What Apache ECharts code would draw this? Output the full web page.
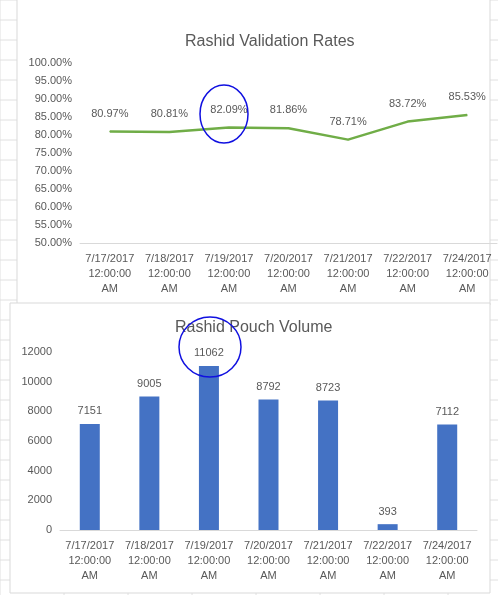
<!DOCTYPE html>
<html><head><meta charset="utf-8">
<script src="https://cdn.jsdelivr.net/npm/echarts@6/dist/echarts.min.js"></script>
<style>html,body{margin:0;padding:0;background:#fff}#c{width:498px;height:595px}</style>
</head><body><div id="c"></div>
<script>
const categories = ["7/17/2017\n12:00:00\nAM","7/18/2017\n12:00:00\nAM","7/19/2017\n12:00:00\nAM","7/20/2017\n12:00:00\nAM","7/21/2017\n12:00:00\nAM","7/22/2017\n12:00:00\nAM","7/24/2017\n12:00:00\nAM"];
const validationRates = [80.97, 80.81, 82.09, 81.86, 78.71, 83.72, 85.53];
const pouchVolume = [7151, 9005, 11062, 8792, 8723, 393, 7112];
const font = "Liberation Sans";
const txt = {color:"#595959", fontFamily:font, fontSize:11};
const chart = echarts.init(document.getElementById('c'));
const grid = [];
for (let x=0;x<498;x+=64) grid.push({type:'line',shape:{x1:x,y1:0,x2:x,y2:595},style:{stroke:'#e0e0e0'},z:-10});
for (let y=0;y<595;y+=20) grid.push({type:'line',shape:{x1:0,y1:y,x2:498,y2:y},style:{stroke:'#e0e0e0'},z:-10});
chart.setOption({
  animation:false,
  textStyle:{fontFamily:font},
  title:[
    {text:"Rashid Validation Rates",top:29,left:180,textStyle:{fontFamily:font,fontWeight:'normal',fontSize:16,color:'#595959'}},
    {text:"Rashid Pouch Volume",top:315,left:170,textStyle:{fontFamily:font,fontWeight:'normal',fontSize:16,color:'#595959'}}
  ],
  graphic:[
    ...grid,
    {type:'rect',shape:{x:17,y:-1,width:473,height:306},style:{fill:'#fff',stroke:'#d9d9d9'},z:-5},
    {type:'rect',shape:{x:10,y:303,width:480,height:290},style:{fill:'#fff',stroke:'#d9d9d9'},z:-4},
    {type:'ellipse',shape:{cx:224,cy:114,rx:24,ry:29},style:{fill:'none',stroke:'#1010e0',lineWidth:1.5},z:50},
    {type:'ellipse',shape:{cx:210,cy:347,rx:31,ry:30},style:{fill:'none',stroke:'#1010e0',lineWidth:1.5},z:50}
  ],
  grid:[
    {left:80,right:1,top:63,height:180},
    {left:60,right:21,top:352,bottom:65}
  ],
  xAxis:[
    {type:'category',gridIndex:0,data:categories,axisTick:{show:false},axisLine:{lineStyle:{color:'#d9d9d9'}},axisLabel:{...txt,lineHeight:15,margin:8,interval:0}},
    {type:'category',gridIndex:1,data:categories,axisTick:{show:false},axisLine:{lineStyle:{color:'#d9d9d9'}},axisLabel:{...txt,lineHeight:15,margin:8,interval:0}}
  ],
  yAxis:[
    {type:'value',gridIndex:0,min:50,max:100,interval:5,splitLine:{show:false},axisLine:{show:false},axisTick:{show:false},axisLabel:{...txt,formatter:v=>v.toFixed(2)+'%'}},
    {type:'value',gridIndex:1,min:0,max:12000,interval:2000,splitLine:{show:false},axisLine:{show:false},axisTick:{show:false},axisLabel:{...txt,formatter:v=>String(v)}}
  ],
  series:[
    {type:'line',xAxisIndex:0,yAxisIndex:0,data:validationRates,showSymbol:true,symbol:'circle',symbolSize:1,itemStyle:{color:'#70AD47'},lineStyle:{color:'#70AD47',width:2.5},
     label:{show:true,position:'top',distance:12,...txt,formatter:p=>p.value.toFixed(2)+'%'}},
    {type:'bar',xAxisIndex:1,yAxisIndex:1,data:pouchVolume,barWidth:20,itemStyle:{color:'#4472C4'},
     label:{show:true,position:'top',distance:7,...txt}}
  ]
});
</script></body></html>
